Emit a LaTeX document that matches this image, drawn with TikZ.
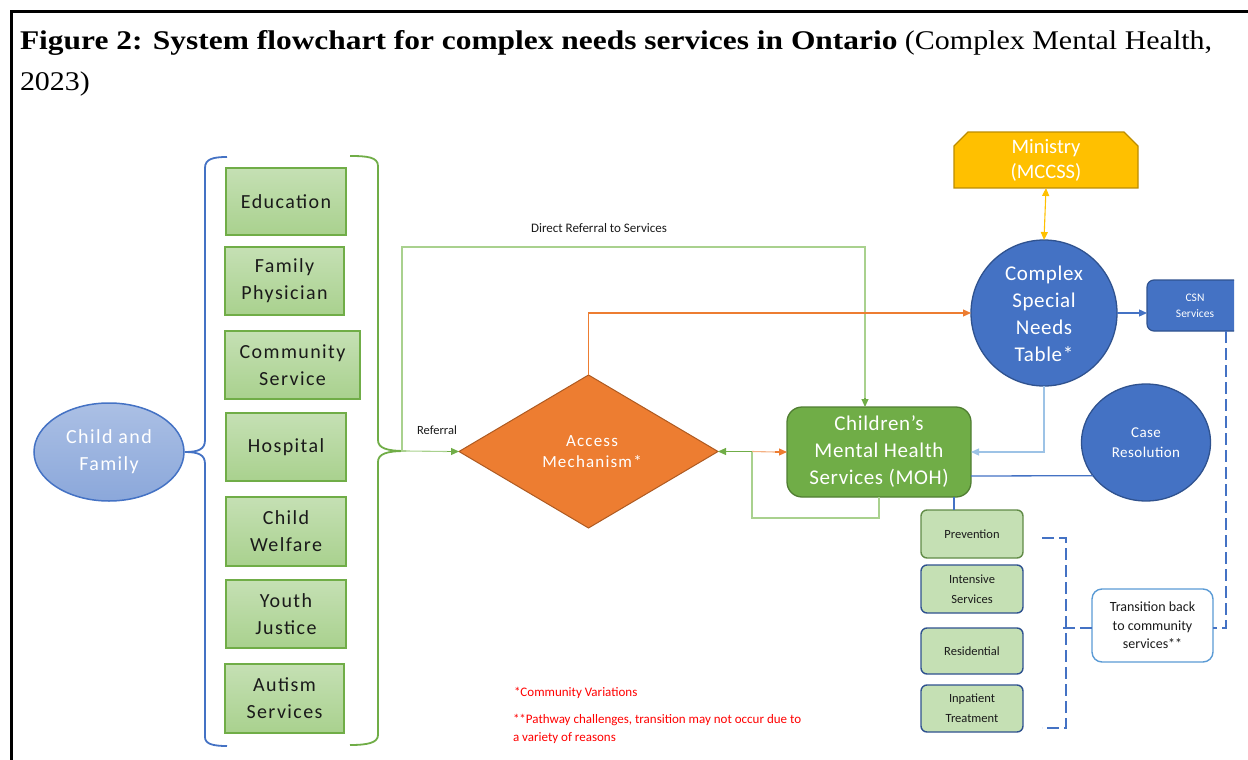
\documentclass[tikz,border=0pt]{standalone}
\usepackage{fontspec}
\setmainfont{Carlito}
\newfontfamily\titlefont{Liberation Serif}
\newfontfamily\widefont{Carlito}[LetterSpace=7]
\newfontfamily\midfont{Carlito}[LetterSpace=3]
\usetikzlibrary{shapes.geometric,shapes.misc,arrows.meta,calc}

\definecolor{ablue}{HTML}{4472C4}
\definecolor{dblue}{HTML}{2F528F}
\definecolor{agreen}{HTML}{70AD47}
\definecolor{dgreen}{HTML}{507E32}
\definecolor{lgreen}{HTML}{C5E0B4}
\definecolor{aorange}{HTML}{ED7D31}
\definecolor{dorange}{HTML}{AE5A21}
\definecolor{agold}{HTML}{FFC000}
\definecolor{dgold}{HTML}{BC8C00}
\definecolor{skyblue}{HTML}{5B9BD5}
\definecolor{paleblue}{HTML}{9DC3E6}
\definecolor{palegreen}{HTML}{A9D18E}
\definecolor{lightorange}{HTML}{F4B183}
\definecolor{txt}{HTML}{1A1A1A}

\tikzset{
  every node/.style={inner sep=0pt, outer sep=0pt},
  srcbox/.style={draw=agreen, line width=1.6pt, top color=lgreen, bottom color=palegreen,
    align=center, text=txt, font=\widefont\fontsize{20}{27}\selectfont},
  stagebox/.style={rounded corners=6pt, fill=lgreen, line width=1.4pt, align=center, text=txt,
    minimum width=102pt, font=\fontsize{12.5}{20}\selectfont},
  gthin/.style={draw=palegreen, line width=1.1pt},
  gstrong/.style={draw=agreen, line width=1.1pt},
  oline/.style={draw=aorange, line width=1.1pt},
  bline/.style={draw=ablue, line width=1.3pt},
  dashline/.style={draw=ablue, line width=1.8pt, dash pattern=on 12pt off 5pt},
  tip/.style={-{Triangle[length=8pt,width=7pt]}},
}

\begin{document}
\begin{tikzpicture}[x=1pt, y=-1pt]
\useasboundingbox (0,0) rectangle (1248,760);

% frame
\draw[line width=3pt] (11,760) -- (11,12) -- (1250,12);

% title
\node[anchor=west, font=\titlefont\fontsize{27}{36}\selectfont] (title1) at (20,43)
  {\scalebox{1.164}[1]{\textbf{Figure 2: System flowchart for complex needs services in Ontario}}\scalebox{1.11}[1]{ (Complex Mental Health,}};
\node[anchor=west, font=\titlefont\fontsize{27}{36}\selectfont] (title2) at (20,84) {\scalebox{1.11}[1]{2023)}};

% child and family
\node[ellipse, draw=ablue, line width=1.5pt, top color=ablue!45, bottom color=ablue!62,
  minimum width=150pt, minimum height=98pt, text=white, align=center,
  font=\widefont\fontsize{20}{27}\selectfont] (cf) at (109,452) {Child and\\Family};

% referral sources
\node[srcbox, minimum width=120pt, minimum height=67pt] (edu) at (286,201.5) {Education};
\node[srcbox, minimum width=119pt, minimum height=68pt] (fp) at (284.5,281) {Family\\Physician};
\node[srcbox, minimum width=135pt, minimum height=68pt] (cs) at (292.5,365) {Community\\Service};
\node[srcbox, minimum width=120pt, minimum height=68pt] (hosp) at (286,447) {Hospital};
\node[srcbox, minimum width=120pt, minimum height=69pt] (cw) at (286,531.5) {Child\\Welfare};
\node[srcbox, minimum width=120pt, minimum height=68pt] (yj) at (286,614) {Youth\\Justice};
\node[srcbox, minimum width=119pt, minimum height=69pt] (aut) at (284.5,698.5) {Autism\\Services};

% braces
\coordinate (btip) at (185,452);
\coordinate (gtip) at (406,451);
\draw[ablue, line width=1.8pt] (227,157) .. controls (213,157) and (205,159) .. (205,168) -- (205,440)
  .. controls (205,449) and (199,452) .. (btip) .. controls (199,452) and (205,455) .. (205,464)
  -- (205,737) .. controls (205,744) and (213,746) .. (227,746);
\draw[agreen, line width=1.8pt] (350,156) .. controls (367,156) and (378,157) .. (378,166) -- (378,440)
  .. controls (378,448) and (386,451) .. (gtip) .. controls (386,451) and (378,454) .. (378,462)
  -- (378,735) .. controls (378,743) and (367,745) .. (350,745);

% access mechanism
\node[diamond, fill=aorange, draw=dorange, line width=1pt, minimum width=259pt, minimum height=153pt] (am) at (588.5,451.5) {};
\node[text=white, align=center, font=\widefont\fontsize{17}{21}\selectfont] (amtext) at (592,452)
  {Access\\Mechanism*};

% children's mental health services
\node[rectangle, rounded corners=15pt, fill=agreen, draw=dgreen, line width=1.3pt,
  minimum width=184pt, minimum height=90pt, text=white, align=center,
  font=\midfont\fontsize{21}{27}\selectfont] (cmh) at (879,452) {Children’s\\Mental Health\\Services (MOH)};

% ministry
\node[chamfered rectangle, chamfered rectangle corners={north west,north east},
  chamfered rectangle xsep=7pt, chamfered rectangle ysep=7pt,
  fill=agold, draw=dgold, line width=1.2pt, minimum width=184pt, minimum height=50pt,
  text=white, align=center, font=\fontsize{20.5}{25}\selectfont] (min) at (1046,160) {Ministry\\(MCCSS)};

% complex special needs table
\node[circle, fill=ablue, draw=dblue, line width=1.3pt, minimum size=146pt] (csnt) at (1044,313) {};
\node[text=white, align=center, font=\midfont\fontsize{21}{27}\selectfont] (csnttext) at (1044,314)
  {Complex\\Special\\Needs\\Table*};

% CSN services (runs off the right edge)
\begin{scope}
  \clip (0,0) rectangle (1234,760);
  \node[rectangle, rounded corners=7pt, fill=ablue, draw=dblue, line width=1.2pt,
    minimum width=110pt, minimum height=51pt, anchor=west] (csn) at (1147,305.5) {};
\end{scope}
\node[text=white, align=center, font=\fontsize{11.5}{16}\selectfont] (csntext) at (1195,306) {CSN\\Services};

% case resolution
\node[ellipse, fill=ablue, draw=dblue, line width=1.3pt, minimum width=129pt, minimum height=117pt,
  text=white, align=center, font=\midfont\fontsize{15}{20}\selectfont] (cr) at (1146,442.5) {Case\\Resolution};

% service stages
\node[stagebox, draw=dgreen!90, minimum height=48pt] (prev) at (972,534) {Prevention};
\node[stagebox, draw=dblue, minimum height=48pt] (intens) at (972,589) {Intensive\\Services};
\node[stagebox, draw=dblue, minimum height=46pt] (resid) at (972,651) {Residential};
\node[stagebox, draw=dblue, minimum height=47pt] (inpat) at (972,708.5) {Inpatient\\Treatment};

% transition back
\node[rectangle, rounded corners=10pt, fill=white, draw=skyblue, line width=1.4pt,
  minimum width=121pt, minimum height=73pt, text=txt, align=center,
  font=\fontsize{14}{18.5}\selectfont] (trans) at (1152.5,625.5) {Transition back\\to community\\services**};

% labels
\node[font=\fontsize{13}{16}\selectfont, text=txt] (drlabel) at (599,228) {Direct Referral to Services};
\node[font=\fontsize{12.5}{16}\selectfont, text=txt] (reflabel) at (437,430) {Referral};
\node[anchor=west, font=\fontsize{13}{18}\selectfont, text=red] (note1) at (514,693) {*Community Variations};
\node[anchor=north west, align=left, font=\fontsize{13}{18}\selectfont, text=red] (note2) at (513,714)
  {**Pathway challenges, transition may not occur due to\\a variety of reasons};

% connectors
\coordinate (drL) at (402,247);
\coordinate (drR) at (865,247);
\coordinate (split) at (752,451.5);
\draw[gthin] (gtip) -- (gtip -| drL) -- (drL) -- (drR) -- ($(drR |- cmh.north)+(0,-9)$);
\draw[gthin, draw=agreen, tip] ($(drR |- cmh.north)+(0,-9)$) -- (drR |- cmh.north);
\draw[gthin] (gtip) -- ($(am.west)+(-12,0)$);
\draw[gstrong, tip] ($(am.west)+(-12,0)$) -- (am.west);
\draw[oline, tip] (am.north) |- (csnt.west);
\draw[draw=lightorange, line width=1.1pt] (split) -- ($(cmh.west)+(-12,0)$);
\draw[oline, tip] ($(cmh.west)+(-12,0)$) -- (cmh.west);
\draw[gthin] (cmh.south) -- ++(0,21) -| (split);
\draw[gstrong, tip] (split) -- (am.east);
\draw[agold, line width=1.1pt, {Triangle[length=8pt,width=7pt]}-{Triangle[length=8pt,width=7pt]}] (min.south) -- (csnt.north);
\draw[bline, tip] (csnt.east) -- (csnt.east -| csn.west);
\draw[draw=paleblue, line width=1.3pt, -{Triangle[length=8pt,width=7pt]}] (csnt.south) |- (cmh.east);
\draw[bline] ($(cmh.east)+(0,24)$) -- (cr.212);
\draw[bline] ($(prev.north)+(-18,0)$) -- ($(cmh.south)+(75,0)$);
\draw[dashline] ($(prev.east)+(19,4)$) -- ++(24,0) |- ($(inpat.east)+(19,19.5)$);
\draw[dashline] ($(trans.west)+(-29,2.5)$) -- ($(trans.west)+(0,2.5)$);
\draw[dashline] (csn.south -| 1226,0) |- ($(trans.east)+(0,2.5)$);
\end{tikzpicture}
\end{document}
